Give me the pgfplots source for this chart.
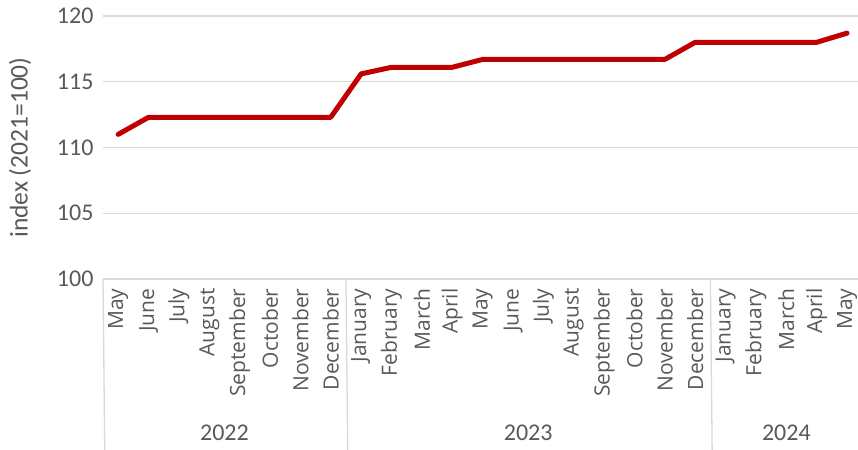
\documentclass[border=0pt]{standalone}
\usepackage{pgfplots}
\pgfplotsset{compat=1.18}
\usepackage{fontspec}
\setmainfont{Carlito}
\newfontfamily\osans{Open Sans}
\definecolor{txt}{HTML}{595959}
\definecolor{grd}{HTML}{D9D9D9}
\definecolor{ln}{HTML}{C00000}
\begin{document}
\begin{tikzpicture}
\useasboundingbox (0,0) rectangle (858bp,450bp);
\begin{axis}[
  at={(103bp,171bp)}, anchor=south west,
  scale only axis, width=755bp, height=263bp,
  xmin=-0.5, xmax=24.36, ymin=100, ymax=120,
  ytick={100,105,110,115,120},
  xtick={0,...,24},
  xticklabels={May,June,July,August,September,October,November,December,January,February,March,April,May,June,July,August,September,October,November,December,January,February,March,April,May},
  axis line style={draw=none},
  major tick length=0pt,
  ymajorgrids, grid style={grd, line width=1.3bp},
  clip=false,
  tick label style={text=txt},
  yticklabel style={font=\fontsize{24bp}{28bp}\selectfont},
  yticklabel shift=6bp,
  xticklabel style={font=\osans\fontsize{21bp}{25bp}\selectfont, rotate=90, anchor=east},
  xticklabel shift=6bp,
  /pgf/number format/assume math mode=true,
]
\addplot[ln, line width=5bp, line join=round, line cap=round] coordinates {
(0,111.0) (1,112.3) (2,112.3) (3,112.3) (4,112.3) (5,112.3) (6,112.3) (7,112.3)
(8,115.6) (9,116.1) (10,116.1) (11,116.1) (12,116.7) (13,116.7) (14,116.7) (15,116.7)
(16,116.7) (17,116.7) (18,116.7) (19,118.0) (20,118.0) (21,118.0) (22,118.0) (23,118.0) (24,118.7)
};
\draw[grd, line width=1.3bp] (axis cs:-0.5,100) -- ++(0,-171bp);
\draw[grd, line width=1.3bp] (axis cs:7.5,100) -- ++(0,-171bp);
\draw[grd, line width=1.3bp] (axis cs:19.5,100) -- ++(0,-171bp);
\node[text=txt, font=\fontsize{24bp}{28bp}\selectfont] at ([yshift=-154bp]axis cs:3.5,100) {2022};
\node[text=txt, font=\fontsize{24bp}{28bp}\selectfont] at ([yshift=-154bp]axis cs:13.5,100) {2023};
\node[text=txt, font=\fontsize{24bp}{28bp}\selectfont] at ([yshift=-154bp]axis cs:22,100) {2024};
\node[rotate=90, text=txt, font=\fontsize{25.5bp}{30bp}\selectfont] at ([xshift=-83bp]rel axis cs:0,0.5) {index (2021=100)};
\end{axis}
\end{tikzpicture}
\end{document}
